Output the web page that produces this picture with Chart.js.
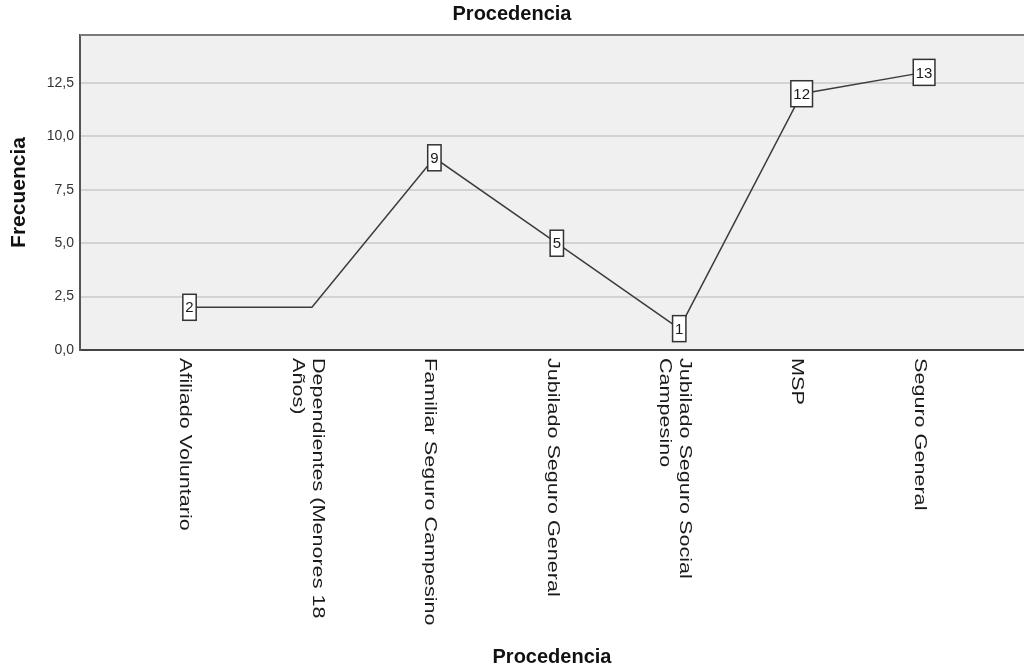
<!DOCTYPE html>
<html>
<head>
<meta charset="utf-8">
<script src="https://cdn.jsdelivr.net/npm/chart.js@4"></script>
<style>
  body { margin: 0; background: #fff; }
  .chart-container { width: 1024px; height: 671px; position: relative; }
</style>
</head>
<body>
<div class="chart-container"><canvas class="chart"></canvas></div>
<script>
// data
var categories = [
  ['Afiliado Voluntario'],
  ['Dependientes (Menores 18', 'Años)'],
  ['Familiar Seguro Campesino'],
  ['Jubilado Seguro General'],
  ['Jubilado Seguro Social', 'Campesino'],
  ['MSP'],
  ['Seguro General']
];
var frequencies = [2, 2, 9, 5, 1, 12, 13];
var showValue = [true, false, true, true, true, true, true]; // 2nd label is hidden in the original
var yTicks = [0, 2.5, 5, 7.5, 10, 12.5];

var fontFamily = "Arial, 'Liberation Sans', sans-serif";

// grey plot background + top border
var plotBackground = {
  id: 'plotBackground',
  beforeDraw: function (chart) {
    var ctx = chart.ctx, a = chart.chartArea;
    ctx.save();
    ctx.fillStyle = '#f0f0f0';
    ctx.fillRect(a.left, a.top, a.right - a.left, a.bottom - a.top);
    ctx.restore();
  },
  beforeDatasetsDraw: function (chart) {
    var ctx = chart.ctx, a = chart.chartArea;
    ctx.save();
    ctx.strokeStyle = '#7a7a7a';
    ctx.lineWidth = 2;
    ctx.beginPath();
    ctx.moveTo(a.left, a.top);
    ctx.lineTo(a.right, a.top);
    ctx.stroke();
    ctx.restore();
  }
};

// boxed value labels on the points
var valueBoxes = {
  id: 'valueBoxes',
  afterDatasetsDraw: function (chart) {
    var ctx = chart.ctx;
    var meta = chart.getDatasetMeta(0);
    ctx.save();
    ctx.font = '15px ' + fontFamily;
    ctx.textAlign = 'center';
    ctx.textBaseline = 'middle';
    meta.data.forEach(function (pt, i) {
      if (!showValue[i]) return;
      var txt = String(frequencies[i]);
      var w = ctx.measureText(txt).width + 5;
      var h = 26;
      ctx.fillStyle = '#ffffff';
      ctx.fillRect(pt.x - w / 2, pt.y - h / 2, w, h);
      ctx.strokeStyle = '#333333';
      ctx.lineWidth = 1.5;
      ctx.strokeRect(pt.x - w / 2, pt.y - h / 2, w, h);
      ctx.fillStyle = '#1a1a1a';
      ctx.fillText(txt, pt.x, pt.y + 1);
    });
    ctx.restore();
  }
};

// category labels, rotated clockwise, read top to bottom
var categoryLabels = {
  id: 'categoryLabels',
  afterDraw: function (chart) {
    var ctx = chart.ctx;
    var xs = chart.scales.x;
    var top = chart.chartArea.bottom + 8;
    var lineGap = 20;
    ctx.save();
    ctx.font = '17px ' + fontFamily;
    ctx.fillStyle = '#1a1a1a';
    ctx.textAlign = 'left';
    ctx.textBaseline = 'middle';
    categories.forEach(function (lines, i) {
      var tx = xs.getPixelForValue(i);
      var n = lines.length;
      lines.forEach(function (line, k) {
        var px = tx - 4.5 + (n - 1) * lineGap / 2 - k * lineGap;
        ctx.save();
        ctx.translate(tx, top);
        ctx.rotate(Math.PI / 2);
        ctx.scale(1.27, 1);
        ctx.fillText(line, 0, tx - px);
        ctx.restore();
      });
    });
    ctx.restore();
  }
};

var config = {
  type: 'line',
  data: {
    datasets: [{
      data: frequencies.map(function (v, i) { return {x: i, y: v}; }),
      borderColor: '#3c3c3c',
      borderWidth: 1.5,
      pointRadius: 0,
      tension: 0
    }]
  },
  options: {
    responsive: true,
    maintainAspectRatio: false,
    animation: false,
    layout: { padding: 0 },
    plugins: {
      legend: { display: false },
      tooltip: { enabled: false },
      title: {
        display: true,
        text: 'Procedencia',
        color: '#111',
        font: { family: fontFamily, size: 20, weight: 'bold' },
        padding: { top: 2, bottom: 9 }
      }
    },
    scales: {
      x: {
        type: 'linear',
        min: -0.8945,
        max: 6.816,
        grid: { display: false },
        border: { display: true, color: '#444', width: 2 },
        ticks: { display: false },
        title: {
          display: true,
          text: 'Procedencia',
          color: '#111',
          font: { family: fontFamily, size: 20, weight: 'bold' },
          padding: { top: 0, bottom: 2 }
        },
        afterFit: function (scale) { scale.height = 321; }
      },
      y: {
        min: 0,
        max: 14.75,
        afterBuildTicks: function (scale) {
          scale.ticks = yTicks.map(function (v) { return {value: v}; });
        },
        grid: {
          drawTicks: false,
          lineWidth: 2,
          color: function (c) { return c.tick && c.tick.value === 0 ? 'rgba(0,0,0,0)' : '#d3d3d3'; }
        },
        border: { display: true, color: '#555', width: 2 },
        ticks: {
          padding: 6,
          color: '#333',
          font: { family: fontFamily, size: 14 },
          callback: function (v) { return v.toFixed(1).replace('.', ','); }
        },
        title: {
          display: true,
          text: 'Frecuencia',
          color: '#111',
          font: { family: fontFamily, size: 21, weight: 'bold' },
          padding: { top: 7, bottom: 0 }
        },
        afterFit: function (scale) { scale.width = 80; }
      }
    }
  },
  plugins: [plotBackground, valueBoxes, categoryLabels]
};

var myChart = new Chart(document.querySelector('.chart'), config);
</script>
</body>
</html>
